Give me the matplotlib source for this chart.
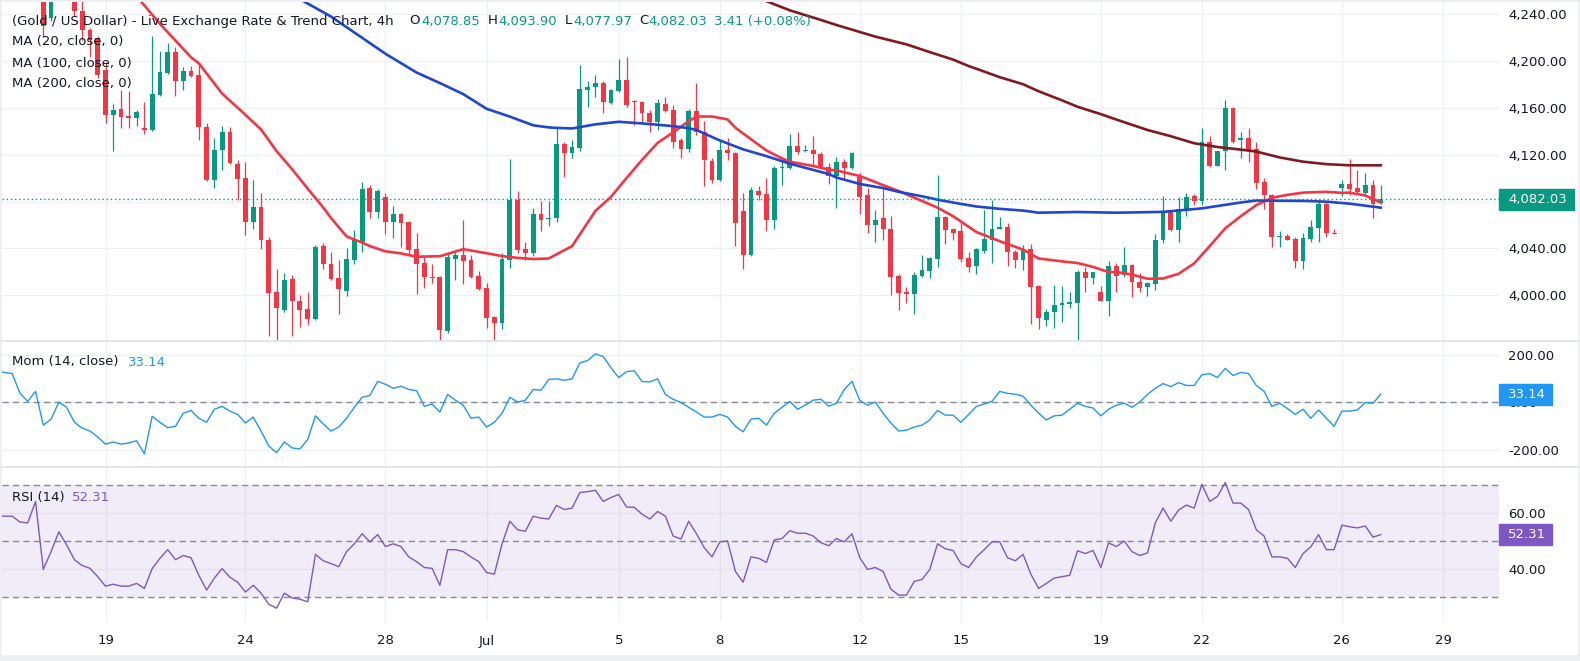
import numpy as np
import matplotlib.pyplot as plt
from matplotlib.patches import Rectangle
from matplotlib.lines import Line2D

plt.rcParams['font.family'] = ['DejaVu Sans']

# candle index -6 .. 172 (4h bars)
idx = np.arange(-6, 173)

opens = [4278, 4283, 4280, 4276, 4268, 4270, 4288, 4236.6, 4254, 4268,
         4258, 4242.4, 4226.5, 4219.8, 4192, 4153.4, 4158.8, 4153, 4151.4, 4142.9,
         4140.6, 4171, 4190, 4207.3, 4182.7, 4191.1, 4187.8, 4143.9, 4098.4, 4123.7,
         4138.9, 4112, 4100, 4063, 4075.5, 4047.2, 4003, 3987.9, 4014.2, 3995.6,
         3988.2, 3980.1, 4042.1, 4026.6, 4014.8, 4004, 4030, 4045.5, 4091.7, 4071.5,
         4084.3, 4063, 4069.1, 4062.4, 4039.4, 4027.6, 4016, 4015.8, 3969.3, 4031,
         4034.4, 4030, 4016.5, 4006.4, 3981.5, 3976.1, 4030, 4081.6, 4039.4, 4036,
         4069.8, 4065, 4066, 4128.8, 4121.4, 4125.4, 4175, 4177.7, 4181, 4164.2,
         4174.3, 4183.7, 4165.9, 4164.8, 4155.1, 4148, 4163.5, 4158.1, 4132.1, 4124.4,
         4156.8, 4138.9, 4114.3, 4098.4, 4124, 4121, 4072.1, 4034.4, 4089.3, 4086.6,
         4064.7, 4108.5, 4108.5, 4127.1, 4122.7, 4123.7, 4120.3, 4109.2, 4101.8, 4113.6,
         4108.5, 4100.8, 4085.6, 4060.3, 4065.7, 4057, 4016.5, 4003, 4001.3, 4016.9,
         4021, 4031, 4067.1, 4057, 4054.6, 4032, 4025.3, 4037.8, 4047.2, 4057,
         4058, 4036.7, 4030.3, 4039.4, 4008.4, 3979.4, 3986.2, 3991.6, 3993, 3993.9,
         4019.9, 4015.2, 4003, 3995.6, 4024.9, 4017.5, 4026, 4011.8, 4007.4, 4009.8,
         4046.9, 4071.5, 4055.6, 4073.8, 4084.9, 4080.6, 4131.1, 4110.2, 4123, 4160.1,
         4132.1, 4133.8, 4124.4, 4096.7, 4086, 4049.6, 4050.6, 4047.9, 4029.3, 4048,
         4057.3, 4078.2, 4053.6, 4091.7, 4095, 4091.7, 4087.6, 4094, 4078.85]

highs = [4288, 4290, 4286, 4280, 4275, 4292, 4290, 4256, 4274, 4271,
         4260, 4254, 4228, 4221, 4199, 4163.5, 4175, 4174.3, 4158, 4164.8,
         4221.5, 4208, 4215.4, 4211.4, 4194.5, 4195.3, 4197.9, 4146.6, 4134.5, 4144.6,
         4143.9, 4115.3, 4113.6, 4098.4, 4087.6, 4049.6, 4022.6, 4019.2, 4017.5, 4000.7,
         4003, 4042.8, 4044.5, 4037.4, 4030, 4040.1, 4055.6, 4096.7, 4094.1, 4090.7,
         4087.3, 4075.8, 4070, 4063.7, 4052.9, 4033.4, 4026.6, 4016.5, 4036, 4036.7,
         4064.7, 4034.4, 4020.9, 4010.5, 3982.1, 4036, 4116.3, 4089.3, 4045.5, 4074.8,
         4080.9, 4080.9, 4143.9, 4130.5, 4132.1, 4196.2, 4182.7, 4187.8, 4182.7, 4176,
         4201.9, 4202.9, 4166.5, 4165.9, 4158.1, 4167.5, 4169.2, 4162.5, 4133.8, 4159.1,
         4181, 4149, 4117, 4132.1, 4133.8, 4122, 4087.3, 4092.7, 4093.4, 4100.1,
         4110.2, 4117.6, 4137.2, 4138.9, 4127.8, 4135.5, 4122, 4112.6, 4117.6, 4116.3,
         4122, 4104.2, 4091.7, 4073.1, 4090.7, 4068.1, 4018.5, 4007.4, 4019.9, 4034.4,
         4032.7, 4102.5, 4068.1, 4057.5, 4061.4, 4036.7, 4040.1, 4073.1, 4081.6, 4067.1,
         4061.4, 4038.8, 4042.8, 4043.5, 4009.1, 3988.2, 4009.1, 4008.4, 4003, 4021.9,
         4024.3, 4020.2, 4008.4, 4029.3, 4027.6, 4041.1, 4026.6, 4019.2, 4011.8, 4052.3,
         4084.9, 4072.5, 4083.9, 4087.3, 4086.6, 4142.3, 4135.5, 4123.5, 4166.9, 4160.5,
         4138.9, 4142.3, 4130.5, 4100.1, 4086.6, 4054.6, 4052.3, 4049.6, 4053.6, 4064.7,
         4081.6, 4079.2, 4056.3, 4098.4, 4116.3, 4106.9, 4104.2, 4098.4, 4093.9]

lows = [4272, 4274, 4270, 4262, 4260, 4266, 4220, 4234, 4253, 4254,
        4238, 4218, 4203, 4185, 4147.3, 4122.7, 4142.9, 4142.9, 4144.6, 4137.2,
        4140, 4170, 4188.4, 4169.9, 4175, 4186.5, 4132.1, 4097.4, 4091.7, 4106.9,
        4112, 4081.6, 4051.2, 4056.3, 4039.4, 3965.3, 3961.9, 3985.5, 3965.3, 3972.7,
        3974.4, 3979, 4022.6, 4013.1, 3984.5, 3999.7, 4026.6, 4036.7, 4065.7, 4065.7,
        4052.3, 4048.9, 4041.1, 4034.4, 4001.3, 4006.4, 4010.8, 3961.2, 3968, 4013.1,
        4009.8, 4015, 4005, 3972, 3961.2, 3971, 4023.3, 4036, 4030, 4033.4,
        4054.6, 4059, 4063, 4100.8, 4117, 4123, 4160.8, 4169.2, 4155.7, 4163.5,
        4173, 4160.8, 4145.6, 4146.6, 4138.9, 4141.2, 4156.5, 4125.4, 4117, 4122,
        4136.5, 4093.4, 4096.1, 4097.4, 4115.3, 4042.1, 4022.6, 4033.4, 4081.6, 4055.3,
        4057, 4094.4, 4107.5, 4120.3, 4122, 4110.9, 4107.5, 4095, 4074.8, 4098.4,
        4108, 4069.8, 4052.9, 4045.5, 4047.2, 4000.7, 3987.2, 3993.9, 3984.5, 4015.8,
        4015.2, 4024.3, 4043.5, 4046.9, 4028.7, 4019.9, 4018.5, 4036, 4027.6, 4056.3,
        4025.3, 4023.3, 4021.9, 3975.4, 3971.3, 3973.7, 3972, 3977.1, 3988.9, 3961.9,
        4003, 4009.8, 3995, 3982.8, 4003, 4015.8, 3999, 4003, 3999.7, 4005,
        4044.5, 4054.6, 4045.5, 4068.1, 4077.2, 4077.2, 4109.5, 4110, 4106.9, 4129.8,
        4117, 4113.6, 4090.7, 4073.8, 4041.1, 4041.1, 4047, 4023.3, 4022.6, 4045.5,
        4045.5, 4050.2, 4052, 4084.9, 4086, 4086.6, 4086.6, 4066.4, 4077.97]

closes = [4283, 4280, 4276, 4268, 4270, 4288, 4230, 4250.1, 4268, 4258,
          4242.4, 4226.5, 4218, 4187.8, 4153.4, 4158.1, 4152.4, 4151.4, 4156.4, 4140.6,
          4171.6, 4190.5, 4207.3, 4182.7, 4191.1, 4187.1, 4143.9, 4098.4, 4123.7, 4138.9,
          4112.6, 4099.4, 4063, 4075.5, 4047.2, 4002.4, 3988.9, 4013.1, 3995.6, 3987.9,
          3980.1, 4041.1, 4026.6, 4013.8, 4005.1, 4031, 4046.9, 4090.7, 4071.5, 4089.3,
          4063, 4069.1, 4062, 4038.8, 4026.6, 4015.8, 4015, 3970.3, 4032.7, 4034.4,
          4029.3, 4015.8, 4005.7, 3981.1, 3976.1, 4031, 4081.6, 4038.8, 4036, 4069.8,
          4064.7, 4066.4, 4128.8, 4121, 4126.4, 4176, 4177.7, 4181, 4164.8, 4175,
          4183.7, 4162.5, 4164.8, 4155.7, 4148, 4164.2, 4157.4, 4131.1, 4124.4, 4156.8,
          4138.9, 4115.3, 4098.4, 4123.7, 4121, 4061.4, 4034.4, 4090, 4086, 4064.7,
          4108.5, 4109.2, 4127.1, 4122, 4123.7, 4120.3, 4108.5, 4101.8, 4113.6, 4108.5,
          4121, 4084.3, 4060.3, 4064.7, 4057, 4015.8, 4002.4, 4001.3, 4017.5, 4021.6,
          4032, 4067.1, 4055.6, 4053.6, 4031, 4024.3, 4039.4, 4047.9, 4057, 4058,
          4036.7, 4030.3, 4038.8, 4007.4, 3980.4, 3986.2, 3991.6, 3993.9, 3994.3, 4019.9,
          4014.8, 4019.9, 3995.6, 4024.9, 4016.5, 4026, 4011.8, 4006.4, 4010.8, 4046.9,
          4071.5, 4055.6, 4073.8, 4084.3, 4080.6, 4131.1, 4110.2, 4123, 4160.1, 4131.1,
          4133.8, 4123.7, 4096.1, 4086, 4049.6, 4050.6, 4047.5, 4029.3, 4048.9, 4058,
          4078.2, 4053.6, 4052.3, 4095, 4090.7, 4088, 4094, 4078.2, 4082.03]

mom = [130, 125, 120, 37, 3, 45, -97, -72, 0, -22,
       -85, -110, -122, -147, -177, -168, -177, -172, -163, -218,
       -60, -85, -108, -102, -47, -35, -68, -85, -30, -18,
       -38, -52, -88, -63, -122, -185, -213, -168, -193, -197,
       -158, -58, -92, -122, -105, -68, -22, 20, 28, 87,
       75, 58, 67, 53, 48, -18, -8, -42, 32, 8,
       -13, -68, -63, -105, -85, -47, 20, 0, 8, 53,
       50, 95, 98, 92, 98, 165, 175, 203, 192, 145,
       103, 128, 132, 87, 85, 98, 32, 12, -2, -22,
       -42, -63, -63, -52, -63, -102, -125, -72, -68, -97,
       -47, -22, 3, -30, -13, 8, 12, -17, -5, 53,
       87, 7, -13, 0, -47, -88, -122, -118, -105, -97,
       -75, -35, -55, -55, -85, -52, -18, -8, 3, 45,
       37, 33, 25, -13, -47, -75, -58, -55, -30, -5,
       -18, -25, -58, -30, -13, -5, -22, 0, 32, 58,
       78, 65, 82, 70, 70, 115, 120, 103, 142, 112,
       125, 120, 70, 45, -18, -5, -27, -52, -30, -68,
       -33, -68, -102, -38, -38, -33, -2, -5, 33.14]

rsi = [59, 58.9, 58.9, 56.8, 56.5, 64.2, 39.8, 46.2, 53.3, 48.6,
       43.3, 41.2, 40.2, 37.2, 33.8, 34.5, 33.8, 33.8, 34.8, 33.0,
       40.1, 43.8, 46.9, 43.3, 44.8, 44.0, 37.7, 32.4, 36.7, 40.1,
       37.0, 35.2, 31.7, 34.1, 31.3, 27.3, 25.9, 31.3, 29.6, 29.1,
       28.2, 45.2, 42.9, 41.9, 40.8, 46.2, 49.0, 52.6, 49.7, 52.3,
       48.0, 49.0, 48.0, 44.3, 42.6, 40.5, 40.2, 34.1, 46.9, 46.9,
       46.2, 44.3, 42.6, 38.7, 38.1, 49.0, 57.1, 54.0, 53.5, 58.9,
       58.2, 57.9, 62.8, 61.3, 61.8, 67.4, 67.7, 68.2, 64.2, 65.6,
       66.7, 62.2, 62.1, 59.6, 57.9, 60.6, 58.9, 51.8, 50.7, 57.1,
       52.6, 47.6, 44.3, 49.7, 50.0, 39.1, 35.2, 44.3, 43.8, 42.3,
       50.4, 50.9, 53.7, 52.8, 52.8, 51.8, 49.4, 48.3, 50.9, 49.7,
       52.6, 44.0, 39.8, 40.5, 39.1, 32.7, 30.6, 30.6, 35.5, 36.2,
       39.8, 49.0, 47.2, 46.6, 41.9, 40.5, 44.3, 46.9, 49.7, 49.7,
       44.0, 42.9, 45.2, 38.1, 33.0, 34.8, 36.7, 37.2, 37.7, 46.5,
       45.5, 46.6, 40.5, 49.3, 48.0, 50.0, 46.2, 44.8, 45.7, 56.5,
       61.8, 57.1, 61.1, 62.9, 61.8, 70.3, 64.2, 66.0, 71.0, 63.6,
       63.6, 61.3, 54.0, 51.8, 44.3, 44.3, 43.8, 40.5, 45.5, 47.9,
       52.3, 46.9, 46.9, 55.7, 55.1, 54.7, 55.4, 51.4, 52.31]

# moving averages (bar index, value)
ma20_i = [5, 12, 15, 19, 20, 23, 25, 28, 30, 32, 34, 36, 37, 39, 41, 42, 44, 46, 48, 51,
          54, 57, 59, 61, 63, 65, 66, 68, 71, 73, 75, 77, 79, 81, 83, 84, 86, 88, 89, 90,
          93, 95, 96, 99, 101, 102, 105, 108, 110, 113, 115, 117, 119, 120, 123, 126, 128,
          131, 133, 135, 137, 138, 140, 142, 144, 146, 148, 150, 152, 154, 156, 158, 160,
          162, 165, 167, 168, 170, 172]
ma20_v = [4310, 4255, 4231.5, 4202.9, 4197.9, 4172, 4160, 4141.5, 4123, 4107.5, 4091, 4075,
          4066, 4050.3, 4045, 4042, 4037.6, 4035.8, 4033, 4033.4, 4039.4, 4036, 4033.5, 4032,
          4031, 4031.5, 4035, 4042, 4072, 4084, 4100, 4115.5, 4130, 4139, 4148.5, 4152.5,
          4152.5, 4150, 4143, 4138, 4123.5, 4116.8, 4114, 4110.3, 4107.3, 4106.5, 4101.8,
          4094, 4089, 4080.5, 4074.8, 4067.5, 4058.5, 4054, 4046.2, 4039, 4031.5, 4029,
          4027.6, 4024.3, 4019.9, 4019.9, 4017.8, 4014.2, 4014.4, 4018.4, 4027.3, 4042,
          4057.2, 4067.5, 4077, 4083.2, 4085.7, 4087.6, 4088.3, 4087.4, 4087.6, 4085.2, 4079.2]

ma100_i = [25, 33, 37, 44, 48, 51, 54, 57, 60, 63, 65, 66, 68, 71, 74, 77, 81, 83, 84, 87,
           90, 93, 96, 99, 101, 102, 105, 108, 110, 113, 115, 118, 120, 123, 126, 128, 133,
           138, 144, 149, 154, 156, 159, 162, 165, 168, 172]
ma100_v = [4282, 4252.5, 4237.7, 4206, 4190, 4181, 4171.6, 4159.1, 4152.4, 4145, 4143.2,
           4142.8, 4142.3, 4145.8, 4148, 4146.6, 4144.3, 4142.5, 4141, 4132.1, 4124.5,
           4118.7, 4112.3, 4107, 4103.5, 4100.5, 4095, 4091.5, 4088.3, 4084.5, 4081.6, 4078,
           4075.8, 4073.8, 4072.3, 4070.5, 4071.1, 4070.5, 4071.2, 4074.2, 4079.2, 4080.9,
           4080.7, 4080.6, 4079.9, 4078.2, 4074.8]

ma200_i = [80, 93, 96, 100, 102, 107, 111, 114, 117, 119, 120, 123, 126, 128, 131, 133, 136,
           138, 142, 145, 148, 151, 154, 156, 159, 162, 165, 168, 172]
ma200_v = [4285, 4250.8, 4243, 4234.8, 4230.5, 4220.6, 4214, 4207.4, 4201, 4195.5, 4193.2,
           4186, 4180, 4174, 4166.3, 4160.8, 4154.5, 4149.9, 4141, 4135.7, 4129.7, 4126.5,
           4124.3, 4122.6, 4117.6, 4114, 4111.9, 4110.9, 4110.9]

tick_pos = [8, 26, 44, 57, 74, 87, 105, 118, 136, 149, 167, 180]
tick_lbl = ['19', '24', '28', 'Jul', '5', '8', '12', '15', '19', '22', '26', '29']

W, H = 1580, 661
GREEN, RED = '#089981', '#f23645'
GRID = '#eef0f4'
TXT = '#131722'
FS = 9.5


def fy(py):
    return 1 - py / H


fig = plt.figure(figsize=(W / 100, H / 100), dpi=100)
fig.patch.set_facecolor('#eceef2')
fig.add_artist(Rectangle((2 / W, fy(654)), 1575 / W, 652 / H, color='white', zorder=-10))

x0, x1 = (2 - 43.3) / 7.776, (1499 - 43.3) / 7.776
ax = fig.add_axes([2 / W, fy(340.7), 1497 / W, 338.7 / H])
axm = fig.add_axes([2 / W, fy(466.6), 1497 / W, 125.9 / H])
axr = fig.add_axes([2 / W, fy(622), 1497 / W, 155.4 / H])

for a in (ax, axm, axr):
    a.set_facecolor('none')
    for s in a.spines.values():
        s.set_visible(False)
    a.set_xlim(x0, x1)
    a.set_xticks(tick_pos)
    a.yaxis.tick_right()
    a.tick_params(length=0, labelsize=FS, labelcolor=TXT)
    a.tick_params(axis='y', pad=6.5)
    a.grid(True, color=GRID, lw=1)
    a.set_axisbelow(True)

ax.set_xticklabels([])
axm.set_xticklabels([])
axr.set_xticklabels(tick_lbl)
axr.tick_params(axis='x', pad=9)

# price pane (the 4,080 label sits under the last-price tag, so it is left blank)
ax.set_ylim(3961.4, 4250.1)
pt = np.arange(4000, 4241, 40)
ax.set_yticks(pt)
ax.set_yticklabels(['' if v == 4080 else f'{v:,.2f}' for v in pt])

o = np.array(opens)
c = np.array(closes)
cols = [GREEN if cc >= oo else RED for oo, cc in zip(o, c)]
ax.vlines(idx, lows, highs, colors=cols, lw=0.9, zorder=2)
ax.bar(idx, np.maximum(np.abs(c - o), 0.9), bottom=np.minimum(o, c), width=0.62,
       color=cols, lw=0, zorder=3)

ax.plot(ma20_i, ma20_v, color='#f23645', lw=1.9, zorder=4)
ax.plot(ma100_i, ma100_v, color='#1f46cf', lw=1.9, zorder=4)
ax.plot(ma200_i, ma200_v, color='#801922', lw=1.9, zorder=4)
ax.axhline(closes[-1], color=GREEN, lw=1, ls=(0, (1, 2)), zorder=4)

# momentum pane
axm.set_ylim(-271.6, 258.5)
axm.set_yticks([-200, 0, 200])
axm.set_yticklabels(['-200.00', '0.00', '200.00'])
axm.axhline(0, color='#868993', lw=1, ls=(0, (4.5, 3)))
axm.plot(idx, mom, color='#2196f3', lw=1.0)

# rsi pane
axr.set_ylim(20.94, 76.7)
axr.set_yticks([40, 60])
axr.set_yticklabels(['40.00', '60.00'])
axr.axhspan(30, 70, color='#7e57c2', alpha=0.1, lw=0)
for lv in (70, 50, 30):
    axr.axhline(lv, color='#868993', lw=1, ls=(0, (4.5, 3)))
axr.plot(idx, rsi, color='#7e57c2', lw=1.0)

# pane separators
for py in (340.7, 466.6):
    fig.add_artist(Line2D([2 / W, 1577 / W], [fy(py), fy(py)], color='#dfe1e8', lw=1.2))


# last value tags on the right scale
def tag(a, val, right, color, text):
    yd = a.transData.transform((0, val))[1]
    fig.add_artist(Rectangle((1499 / W, (yd - 10.5) / H), (right - 1499) / W, 21 / H,
                             color=color, zorder=5))
    fig.text(1508 / W, yd / H, text, color='white', fontsize=FS, va='center', zorder=6)


tag(ax, closes[-1], 1574, GREEN, f'{closes[-1]:,.2f}')
tag(axm, mom[-1], 1552, '#2196f3', f'{mom[-1]:.2f}')
tag(axr, rsi[-1], 1552, '#7e57c2', f'{rsi[-1]:.2f}')

# legends
fig.text(11.5 / W, fy(21), '(Gold / US Dollar) - Live Exchange Rate & Trend Chart, 4h',
         color=TXT, fontsize=FS, va='center')
ohlc = [('O', 409.5, 421, opens[-1]), ('H', 487.5, 498, highs[-1]),
        ('L', 565, 573, lows[-1]), ('C', 639, 648.5, closes[-1])]
for k, xa, xb, v in ohlc:
    fig.text(xa / W, fy(21), k, color=TXT, fontsize=FS, va='center')
    fig.text(xb / W, fy(21), f'{v:,.2f}', color=GREEN, fontsize=FS, va='center')
fig.text(714 / W, fy(21), '3.41 (+0.08%)', color=GREEN, fontsize=FS, va='center')
for k, t in enumerate(['MA (20, close, 0)', 'MA (100, close, 0)', 'MA (200, close, 0)']):
    fig.text(11.5 / W, fy(42 + 21 * k), t, color=TXT, fontsize=FS, va='center')

fig.text(11.5 / W, fy(362), 'Mom (14, close)', color=TXT, fontsize=FS, va='center')
fig.text(128 / W, fy(362), f'{mom[-1]:.2f}', color='#2196f3', fontsize=FS, va='center')
fig.text(11.5 / W, fy(497.5), 'RSI (14)', color=TXT, fontsize=FS, va='center')
fig.text(71.5 / W, fy(497.5), f'{rsi[-1]:.2f}', color='#7e57c2', fontsize=FS, va='center')

fig.savefig('out.png', dpi=100, facecolor=fig.get_facecolor())
